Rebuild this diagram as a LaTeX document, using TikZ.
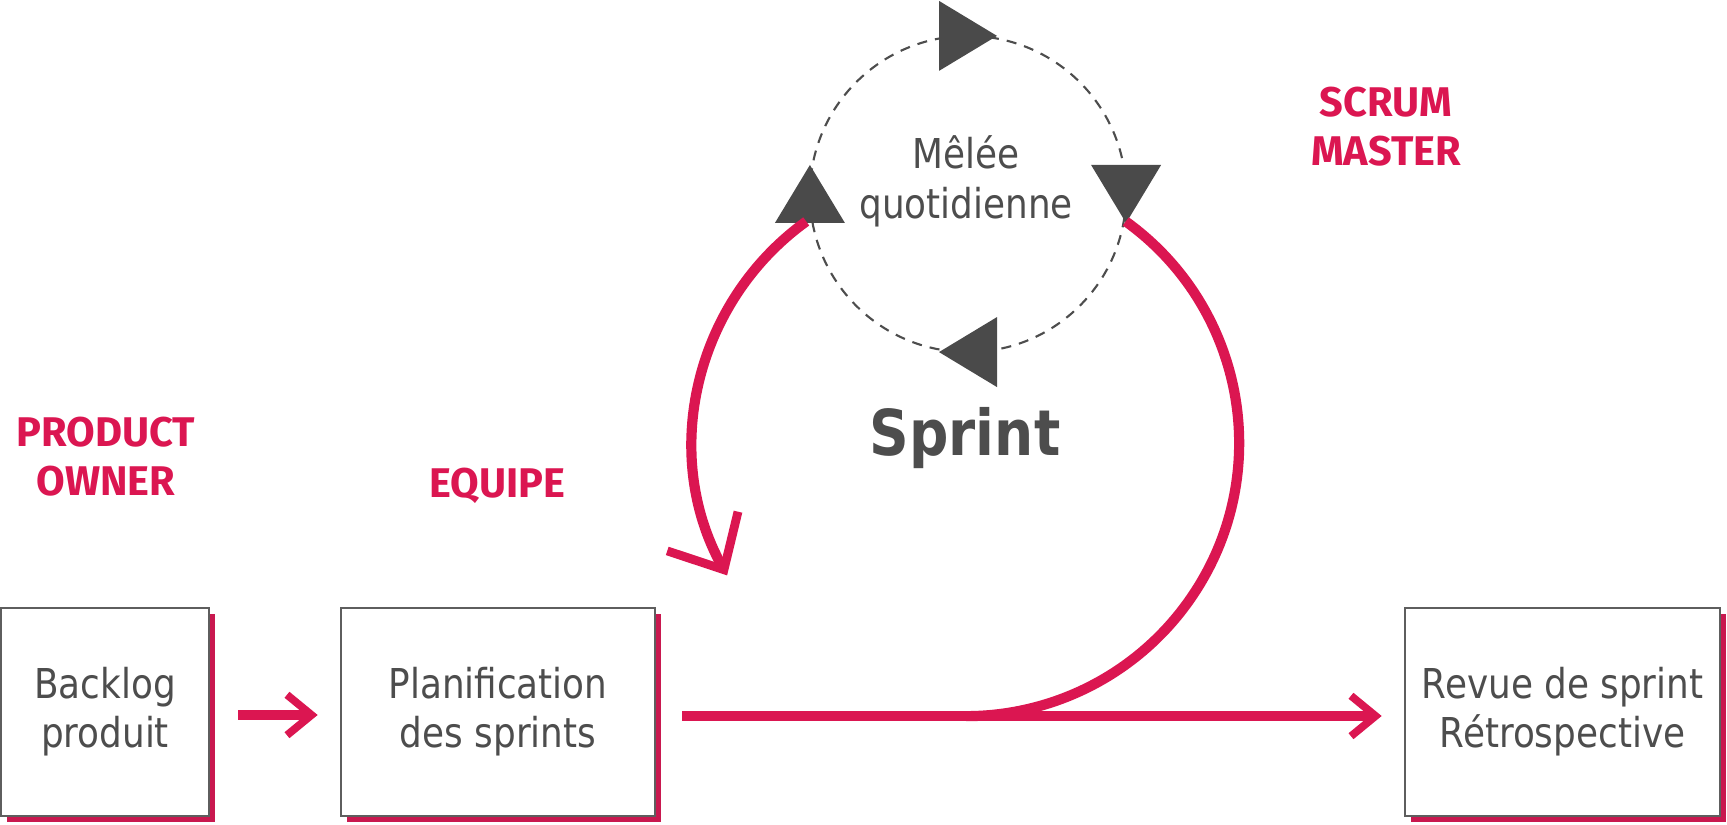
\documentclass[tikz,border=0pt]{standalone}
\usepackage{fontspec}
\usetikzlibrary{arrows.meta,shadows,calc}
\newfontfamily\tah[FakeStretch=0.87]{DejaVu Sans}
\newfontfamily\din{Fira Sans}
\definecolor{scred}{HTML}{DB1651}
\definecolor{shred}{HTML}{C9184F}
\definecolor{txtgrey}{HTML}{4D4D4D}
\definecolor{boxgrey}{HTML}{5E5E5E}
\definecolor{trigrey}{HTML}{4A4A4A}
\begin{document}
\begin{tikzpicture}[x=0.01cm,y=0.01cm,
  box/.style={draw=boxgrey,line width=0.7pt,fill=white,inner sep=0pt,align=center,
    text=txtgrey,font=\tah\fontsize{11.7}{13.9}\selectfont,minimum height=2.08cm,
    general shadow={fill=shred,shadow xshift=0.06cm,shadow yshift=-0.06cm}},
  redline/.style={draw=scred,line width=2.9pt},
  redarrow/.style={redline,-{Straight Barb[length=7pt,width=11.5pt,line width=2.2pt]}},
  bigarrow/.style={redline,-{Straight Barb[length=12.5pt,width=23pt,line width=2.5pt]}},
  dashc/.style={draw=txtgrey,line width=0.6pt,dash pattern=on 2.85pt off 2.3pt},
  rolelabel/.style={text=scred,align=center,font=\din\bfseries\fontsize{11.8}{14}\selectfont},
  greytext/.style={text=txtgrey,align=center,font=\tah\fontsize{11.7}{14.2}\selectfont},
  mtri/.pic={\fill[trigrey] (-29,35) -- (-29,-35) -- (29,0) -- cycle;}
]
\useasboundingbox (0,0) rectangle (1727,825);

% boxes
\node[box,minimum width=2.08cm] (b1) at (105,113) {Backlog\\produit};
\node[box,minimum width=3.14cm] (b2) at (498,113) {Planification\\des sprints};
\node[box,minimum width=3.15cm] (b3) at (1562.5,113) {Revue de sprint\\Rétrospective};

% role labels
\node[rolelabel] (po) at (106,368) {PRODUCT\\OWNER};
\node[rolelabel] (eq) at (497,339) {EQUIPE};
\node[rolelabel] (sm) at (1386,698) {SCRUM\\MASTER};

% centres
\coordinate (C) at (966,382);
\coordinate (D) at (968,631);

% daily scrum circle
\draw[dashc] (D) circle[radius=1.58cm];
\node[greytext] (melee) at (966,644) {Mêlée\\quotidienne};
\coordinate (tT) at ($(D)+(90:1.58cm)$);
\coordinate (tR) at ($(D)+(0:1.58cm)$);
\coordinate (tB) at ($(D)+(270:1.58cm)$);
\coordinate (tL) at ($(D)+(180:1.58cm)$);
\pic at (tT) {mtri};
\pic[rotate=-90] at (tR) {mtri};
\pic[rotate=180] at (tB) {mtri};
\pic[rotate=90] at (tL) {mtri};

% sprint label
\node[text=txtgrey,font=\tah\bfseries\fontsize{18}{20}\selectfont] (sprint) at (965,387) {Sprint};

% red loop
\coordinate (rs) at ($(C)+(54.2:2.73cm)$);
\coordinate (ls) at ($(C)+(125.8:2.73cm)$);
\draw[redline] (rs) arc[start angle=54.2,end angle=-90,radius=2.73cm];
\draw[bigarrow] (ls) arc[start angle=125.8,end angle=209,radius=2.73cm];

% connectors
\draw[redarrow] ($(b1.east)+(28,-3)$) -- ($(b2.west)+(-22,-3)$);
\draw[redarrow] ($(b2.east)+(26,-4)$) -- ($(b3.west)+(-22,-4)$);
\end{tikzpicture}
\end{document}
